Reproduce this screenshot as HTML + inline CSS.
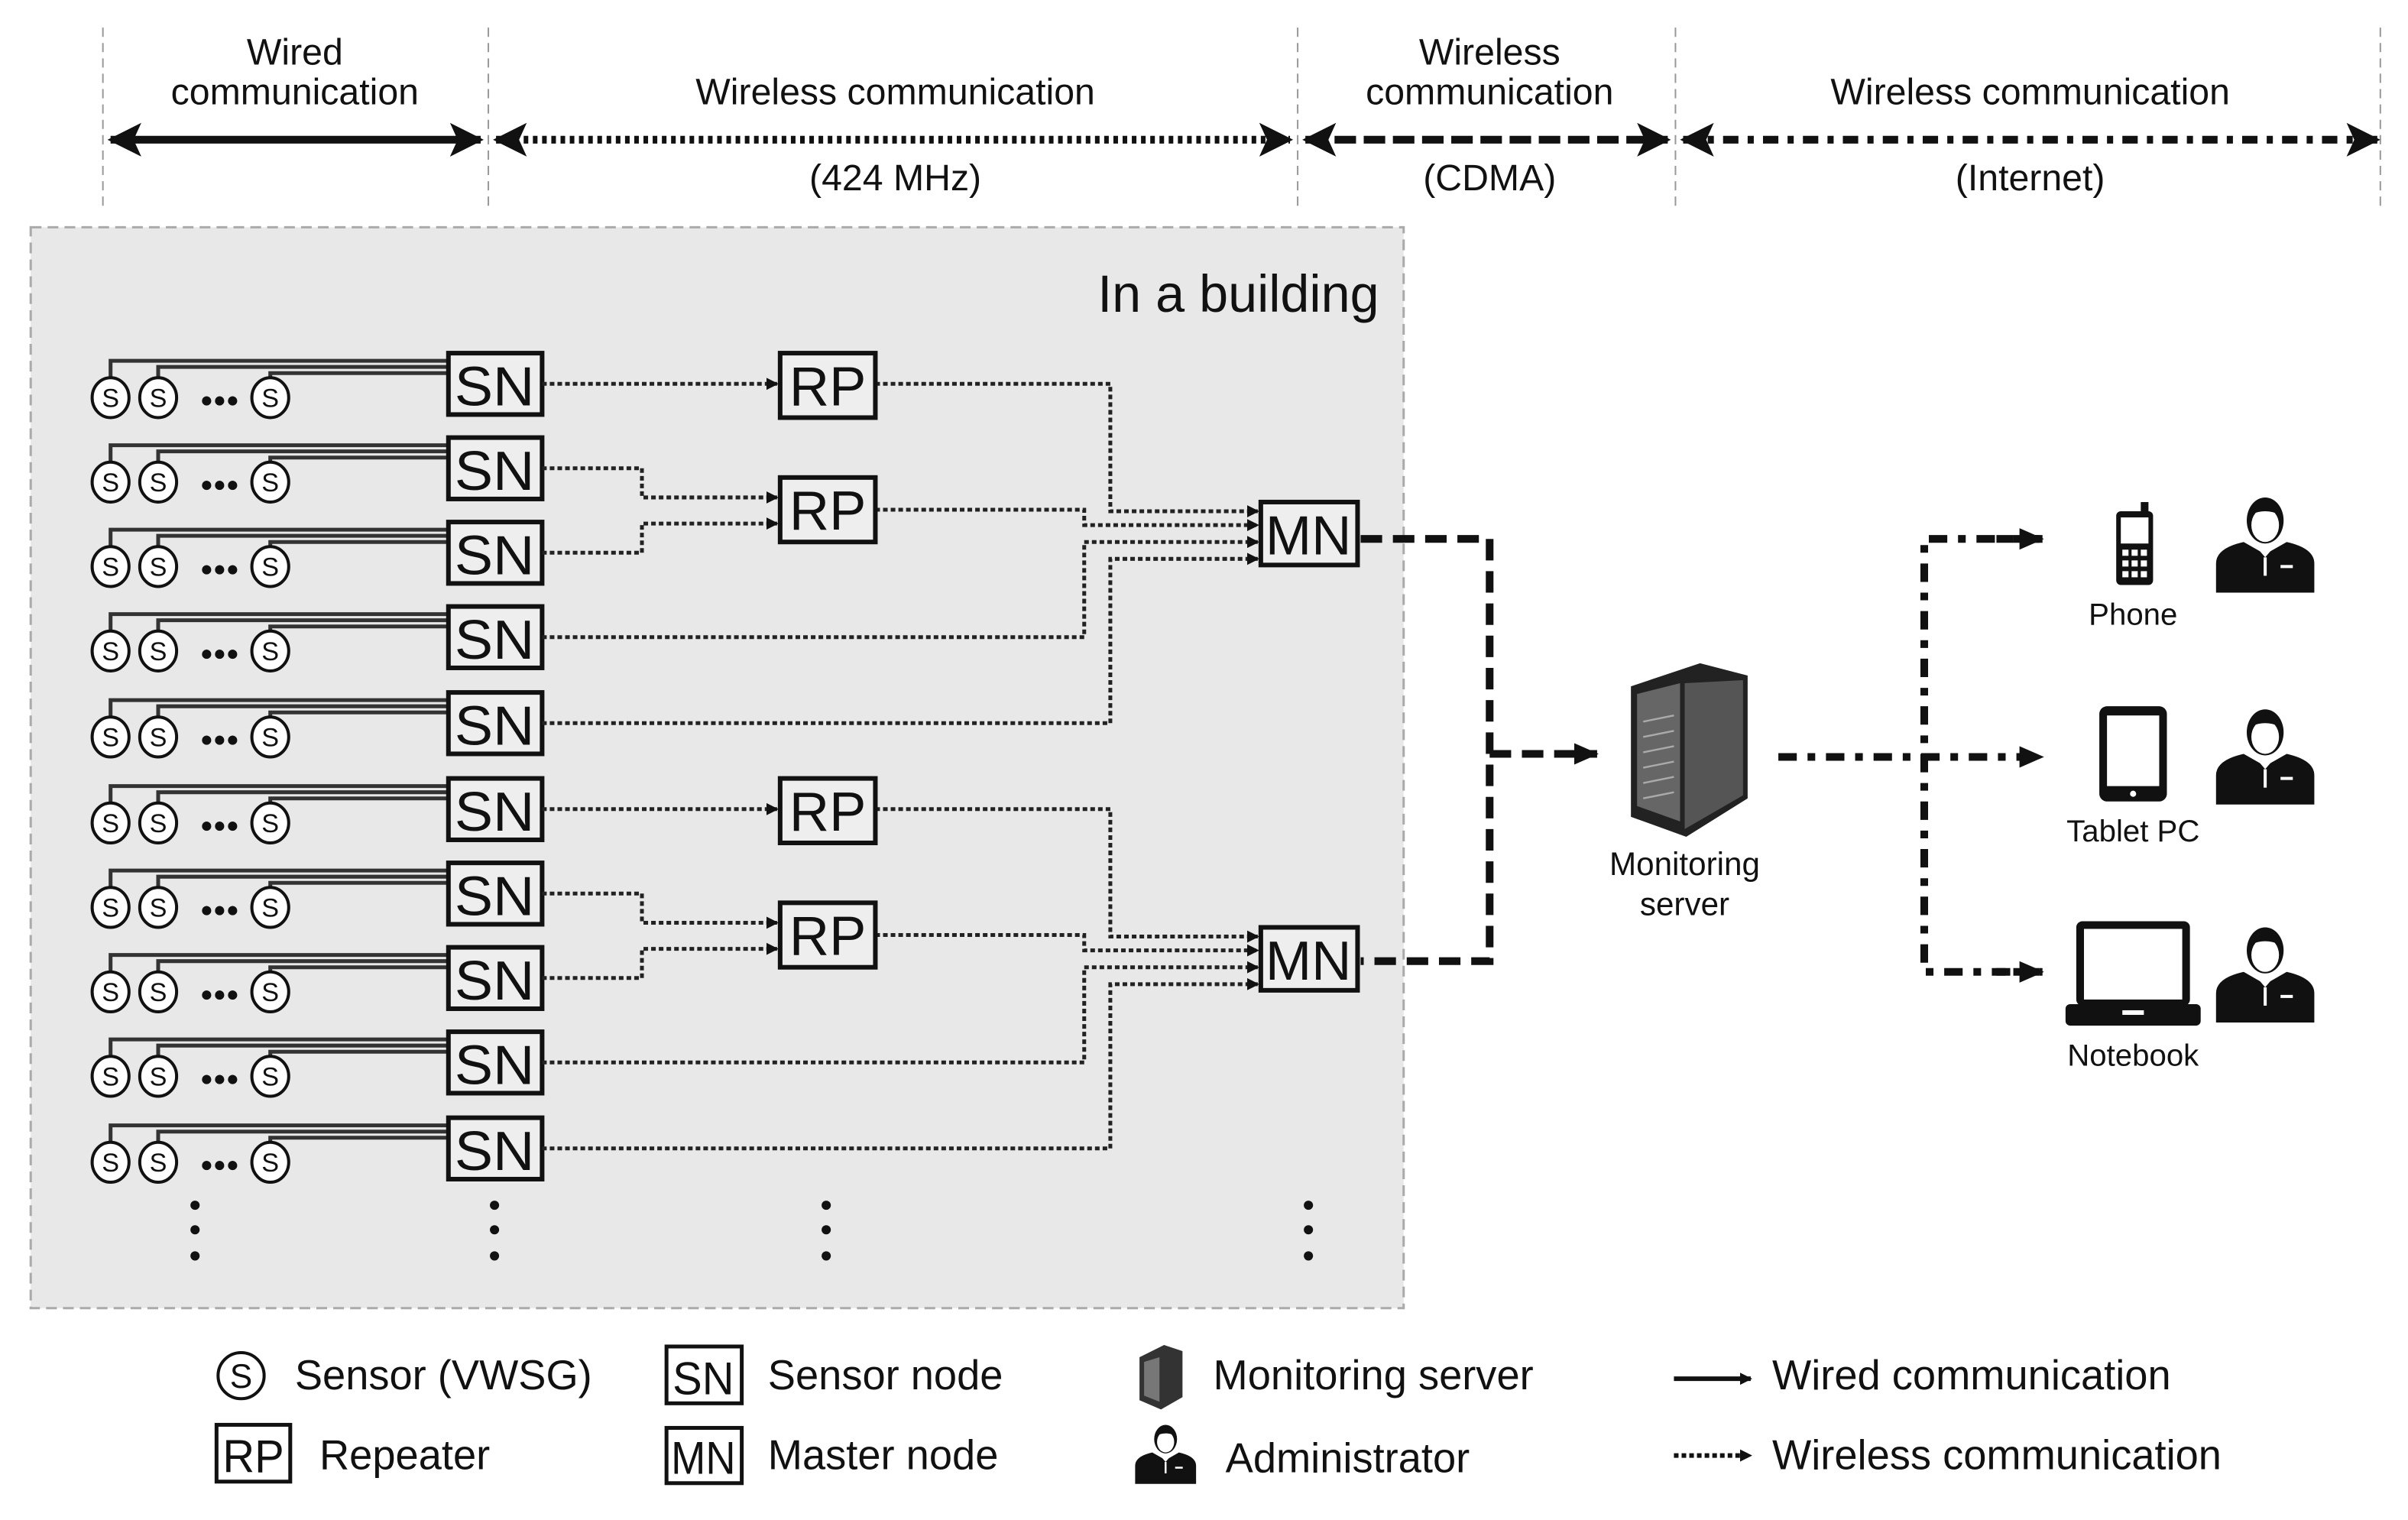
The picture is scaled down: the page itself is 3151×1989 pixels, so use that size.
<!DOCTYPE html>
<html><head><meta charset="utf-8"><style>
html,body{margin:0;padding:0;background:#fff;}
svg{display:block;}
text{font-family:"Liberation Sans",sans-serif;fill:#111;}
</style></head><body>
<svg width="3151" height="1989" viewBox="0 0 1568 990" preserveAspectRatio="none" xmlns="http://www.w3.org/2000/svg">
<defs>
<marker id="ah" markerWidth="8" markerHeight="8" refX="7" refY="4" orient="auto-start-reverse" markerUnits="userSpaceOnUse"><path d="M0 0L8 4L0 8Z" fill="#111"/></marker>
<marker id="big" markerWidth="22" markerHeight="22" refX="20" refY="11" orient="auto-start-reverse" markerUnits="userSpaceOnUse"><path d="M0 0L22 11L0 22L5 11Z" fill="#111"/></marker>
<marker id="mid" markerWidth="16" markerHeight="14" refX="15" refY="7" orient="auto-start-reverse" markerUnits="userSpaceOnUse"><path d="M0 0L16 7L0 14Z" fill="#111"/></marker>
<g id="admin"><ellipse cx="0" cy="-14" rx="12" ry="15" fill="#111"/><ellipse cx="0" cy="-11" rx="9" ry="11" fill="#fff"/><path d="M-9 -18 Q0 -30 9 -18 Q0 -22 -9 -18Z" fill="#111"/><path d="M-32 33 L-32 14 Q-32 4 -14 0 L0 8 L14 0 Q32 4 32 14 L32 33Z" fill="#111"/><path d="M-6 3 L0 10 L6 3 L2 4 L0 7 L-2 4Z" fill="#fff"/><path d="M-1 10V22H1V10Z" fill="#fff"/><rect x="10" y="15" width="8" height="2" fill="#fff"/></g>
<g id="row"><path d="M72 -1V-15H292M103 -1V-11H292M176 -1V-7H292" stroke="#333" stroke-width="2.5" fill="none"/><g fill="#fff" stroke="#111" stroke-width="2"><ellipse cx="72" cy="9" rx="12" ry="13"/><ellipse cx="103" cy="9" rx="12" ry="13"/><ellipse cx="176" cy="9" rx="12" ry="13"/></g><rect x="292" y="-20" width="61" height="40" fill="#eee" stroke="#111" stroke-width="3"/></g>
</defs>

<g stroke="#999" stroke-width="1" stroke-dasharray="6 4">
<line x1="67" y1="18" x2="67" y2="136"/><line x1="318" y1="18" x2="318" y2="136"/><line x1="845" y1="18" x2="845" y2="136"/><line x1="1091" y1="18" x2="1091" y2="136"/><line x1="1550" y1="18" x2="1550" y2="136"/>
</g>
<g font-size="24" text-anchor="middle">
<text x="192" y="42">Wired</text><text x="192" y="68">communication</text>
<text x="583" y="68">Wireless communication</text><text x="583" y="124">(424 MHz)</text>
<text x="970" y="42">Wireless</text><text x="970" y="68">communication</text><text x="970" y="124">(CDMA)</text>
<text x="1322" y="68">Wireless communication</text><text x="1322" y="124">(Internet)</text>
</g>
<g fill="none" stroke="#111" stroke-width="5">
<line x1="72" y1="91" x2="313" y2="91" marker-start="url(#big)" marker-end="url(#big)"/>
<line x1="323" y1="91" x2="840" y2="91" stroke-dasharray="3 3" marker-start="url(#big)" marker-end="url(#big)"/>
<line x1="850" y1="91" x2="1086" y2="91" stroke-dasharray="14 5" marker-start="url(#big)" marker-end="url(#big)"/>
<line x1="1096" y1="91" x2="1548" y2="91" stroke-dasharray="10 6 4 6" marker-start="url(#big)" marker-end="url(#big)"/>
</g>

<rect x="20" y="148" width="894" height="704" fill="#e8e8e8" stroke="#aaa" stroke-width="1.5" stroke-dasharray="7 4"/>
<text x="898" y="203" font-size="34" text-anchor="end">In a building</text>

<use href="#row" transform="translate(0,250)"/>
<use href="#row" transform="translate(0,305)"/>
<use href="#row" transform="translate(0,360)"/>
<use href="#row" transform="translate(0,415)"/>
<use href="#row" transform="translate(0,471)"/>
<use href="#row" transform="translate(0,527)"/>
<use href="#row" transform="translate(0,582)"/>
<use href="#row" transform="translate(0,637)"/>
<use href="#row" transform="translate(0,692)"/>
<use href="#row" transform="translate(0,748)"/>
<g font-size="17" text-anchor="middle">
<text x="72" y="265">S</text><text x="103" y="265">S</text><text x="176" y="265">S</text>
<text x="72" y="320">S</text><text x="103" y="320">S</text><text x="176" y="320">S</text>
<text x="72" y="375">S</text><text x="103" y="375">S</text><text x="176" y="375">S</text>
<text x="72" y="430">S</text><text x="103" y="430">S</text><text x="176" y="430">S</text>
<text x="72" y="486">S</text><text x="103" y="486">S</text><text x="176" y="486">S</text>
<text x="72" y="542">S</text><text x="103" y="542">S</text><text x="176" y="542">S</text>
<text x="72" y="597">S</text><text x="103" y="597">S</text><text x="176" y="597">S</text>
<text x="72" y="652">S</text><text x="103" y="652">S</text><text x="176" y="652">S</text>
<text x="72" y="707">S</text><text x="103" y="707">S</text><text x="176" y="707">S</text>
<text x="72" y="763">S</text><text x="103" y="763">S</text><text x="176" y="763">S</text>
</g>
<g font-size="14" text-anchor="middle">
<text x="143" y="265">●●●</text><text x="143" y="320">●●●</text><text x="143" y="375">●●●</text><text x="143" y="430">●●●</text><text x="143" y="486">●●●</text>
<text x="143" y="542">●●●</text><text x="143" y="597">●●●</text><text x="143" y="652">●●●</text><text x="143" y="707">●●●</text><text x="143" y="763">●●●</text>
</g>
<g font-size="36" text-anchor="middle">
<text x="322" y="264" textLength="52" lengthAdjust="spacingAndGlyphs">SN</text>
<text x="322" y="319" textLength="52" lengthAdjust="spacingAndGlyphs">SN</text>
<text x="322" y="374" textLength="52" lengthAdjust="spacingAndGlyphs">SN</text>
<text x="322" y="429" textLength="52" lengthAdjust="spacingAndGlyphs">SN</text>
<text x="322" y="485" textLength="52" lengthAdjust="spacingAndGlyphs">SN</text>
<text x="322" y="541" textLength="52" lengthAdjust="spacingAndGlyphs">SN</text>
<text x="322" y="596" textLength="52" lengthAdjust="spacingAndGlyphs">SN</text>
<text x="322" y="651" textLength="52" lengthAdjust="spacingAndGlyphs">SN</text>
<text x="322" y="706" textLength="52" lengthAdjust="spacingAndGlyphs">SN</text>
<text x="322" y="762" textLength="52" lengthAdjust="spacingAndGlyphs">SN</text>
</g>

<g fill="none" stroke="#222" stroke-width="2.5" stroke-dasharray="3 2">
<path d="M353 250H506" marker-end="url(#ah)"/>
<path d="M353 305H418V324H506" marker-end="url(#ah)"/>
<path d="M353 360H418V341H506" marker-end="url(#ah)"/>
<path d="M570 250H723V333H819" marker-end="url(#ah)"/>
<path d="M570 332H706V342H819" marker-end="url(#ah)"/>
<path d="M353 415H706V353H819" marker-end="url(#ah)"/>
<path d="M353 471H723V364H819" marker-end="url(#ah)"/>
<path d="M353 527H506" marker-end="url(#ah)"/>
<path d="M353 582H418V601H506" marker-end="url(#ah)"/>
<path d="M353 637H418V618H506" marker-end="url(#ah)"/>
<path d="M570 527H723V610H819" marker-end="url(#ah)"/>
<path d="M570 609H706V619H819" marker-end="url(#ah)"/>
<path d="M353 692H706V630H819" marker-end="url(#ah)"/>
<path d="M353 748H723V641H819" marker-end="url(#ah)"/>
</g>

<g fill="#eee" stroke="#111" stroke-width="3">
<rect x="508" y="230" width="62" height="42"/><rect x="508" y="311" width="62" height="42"/>
<rect x="508" y="507" width="62" height="42"/><rect x="508" y="588" width="62" height="42"/>
<rect x="821" y="327" width="63" height="41"/><rect x="821" y="604" width="63" height="41"/>
</g>
<g font-size="36" text-anchor="middle">
<text x="539" y="264" textLength="50" lengthAdjust="spacingAndGlyphs">RP</text>
<text x="539" y="345" textLength="50" lengthAdjust="spacingAndGlyphs">RP</text>
<text x="539" y="541" textLength="50" lengthAdjust="spacingAndGlyphs">RP</text>
<text x="539" y="622" textLength="50" lengthAdjust="spacingAndGlyphs">RP</text>
<text x="852" y="361" textLength="56" lengthAdjust="spacingAndGlyphs">MN</text>
<text x="852" y="638" textLength="56" lengthAdjust="spacingAndGlyphs">MN</text>
</g>

<g fill="#111">
<circle cx="127" cy="785" r="3"/><circle cx="127" cy="801" r="3"/><circle cx="127" cy="818" r="3"/>
<circle cx="322" cy="785" r="3"/><circle cx="322" cy="801" r="3"/><circle cx="322" cy="818" r="3"/>
<circle cx="538" cy="785" r="3"/><circle cx="538" cy="801" r="3"/><circle cx="538" cy="818" r="3"/>
<circle cx="852" cy="785" r="3"/><circle cx="852" cy="801" r="3"/><circle cx="852" cy="818" r="3"/>
</g>

<g fill="none" stroke="#111" stroke-width="5">
<path d="M886 351H970V626H886" stroke-dasharray="14 7"/>
<path d="M970 491H1040" stroke-dasharray="14 7" marker-end="url(#mid)"/>
<path d="M1158 493H1330" stroke-dasharray="12 7 5 7" marker-end="url(#mid)"/>
<path d="M1330 351H1253V633H1330" stroke-dasharray="12 7 5 7"/>
<path d="M1300 351H1330" marker-end="url(#mid)" stroke-dasharray="6 5"/>
<path d="M1300 633H1330" marker-end="url(#mid)" stroke-dasharray="6 5"/>
</g>

<g>
<path d="M1062 447L1107 432L1138 440L1138 520L1098 545L1062 532Z" fill="#222"/>
<path d="M1066 452L1094 445L1094 535L1066 525Z" fill="#666"/>
<path d="M1097 445L1135 443L1135 518L1097 540Z" fill="#555"/>
<g stroke="#aaa" stroke-width="1.2">
<line x1="1070" y1="470" x2="1090" y2="466"/><line x1="1070" y1="480" x2="1090" y2="476"/><line x1="1070" y1="490" x2="1090" y2="486"/><line x1="1070" y1="500" x2="1090" y2="496"/><line x1="1070" y1="510" x2="1090" y2="506"/><line x1="1070" y1="520" x2="1090" y2="516"/>
</g>
</g>
<text x="1097" y="570" font-size="21" text-anchor="middle">Monitoring</text>
<text x="1097" y="596" font-size="21" text-anchor="middle">server</text>

<rect x="1378" y="333" width="24" height="48" rx="3" fill="#111"/>
<rect x="1381" y="337" width="18" height="17" fill="#fff"/>
<g fill="#fff"><rect x="1382" y="358" width="4" height="4"/><rect x="1388" y="358" width="4" height="4"/><rect x="1394" y="358" width="4" height="4"/><rect x="1382" y="365" width="4" height="4"/><rect x="1388" y="365" width="4" height="4"/><rect x="1394" y="365" width="4" height="4"/><rect x="1382" y="372" width="4" height="4"/><rect x="1388" y="372" width="4" height="4"/><rect x="1394" y="372" width="4" height="4"/></g>
<rect x="1394" y="327" width="5" height="7" fill="#111"/>
<text x="1389" y="407" font-size="20" text-anchor="middle">Phone</text>
<rect x="1367" y="460" width="44" height="62" rx="5" fill="#111"/>
<rect x="1372" y="466" width="34" height="46" fill="#fff"/>
<circle cx="1389" cy="517" r="2" fill="#fff"/>
<text x="1389" y="548" font-size="20" text-anchor="middle">Tablet PC</text>
<rect x="1352" y="600" width="74" height="55" rx="4" fill="#111"/>
<rect x="1357" y="605" width="64" height="46" fill="#fff"/>
<rect x="1345" y="654" width="88" height="14" rx="3" fill="#111"/>
<rect x="1382" y="658" width="14" height="3" fill="#fff"/>
<text x="1389" y="694" font-size="20" text-anchor="middle">Notebook</text>
<use href="#admin" transform="translate(1475,353)"/>
<use href="#admin" transform="translate(1475,491)"/>
<use href="#admin" transform="translate(1475,633)"/>

<circle cx="157" cy="896" r="15" fill="#fff" stroke="#111" stroke-width="2"/>
<text x="157" y="904" font-size="22" text-anchor="middle">S</text>
<text x="192" y="905" font-size="27">Sensor (VWSG)</text>
<rect x="141" y="928" width="48" height="37" fill="#fff" stroke="#111" stroke-width="2.5"/>
<text x="165" y="959" font-size="30" text-anchor="middle" textLength="40" lengthAdjust="spacingAndGlyphs">RP</text>
<text x="208" y="957" font-size="27">Repeater</text>
<rect x="434" y="877" width="49" height="37" fill="#fff" stroke="#111" stroke-width="2.5"/>
<text x="458" y="908" font-size="30" text-anchor="middle" textLength="40" lengthAdjust="spacingAndGlyphs">SN</text>
<text x="500" y="905" font-size="27">Sensor node</text>
<rect x="434" y="930" width="49" height="36" fill="#fff" stroke="#111" stroke-width="2.5"/>
<text x="458" y="960" font-size="30" text-anchor="middle" textLength="42" lengthAdjust="spacingAndGlyphs">MN</text>
<text x="500" y="957" font-size="27">Master node</text>
<path d="M742 884L758 876L770 880L770 910L756 918L742 912Z" fill="#333"/>
<path d="M745 887L755 884L755 913L745 909Z" fill="#777"/>
<text x="790" y="905" font-size="27">Monitoring server</text>
<use href="#admin" transform="translate(759,946) scale(0.62)"/>
<text x="798" y="959" font-size="27">Administrator</text>
<line x1="1090" y1="898" x2="1140" y2="898" stroke="#111" stroke-width="3" marker-end="url(#ah)"/>
<text x="1154" y="905" font-size="27">Wired communication</text>
<line x1="1090" y1="948" x2="1140" y2="948" stroke="#111" stroke-width="3" stroke-dasharray="3 2" marker-end="url(#ah)"/>
<text x="1154" y="957" font-size="27">Wireless communication</text>
</svg>
</body></html>
